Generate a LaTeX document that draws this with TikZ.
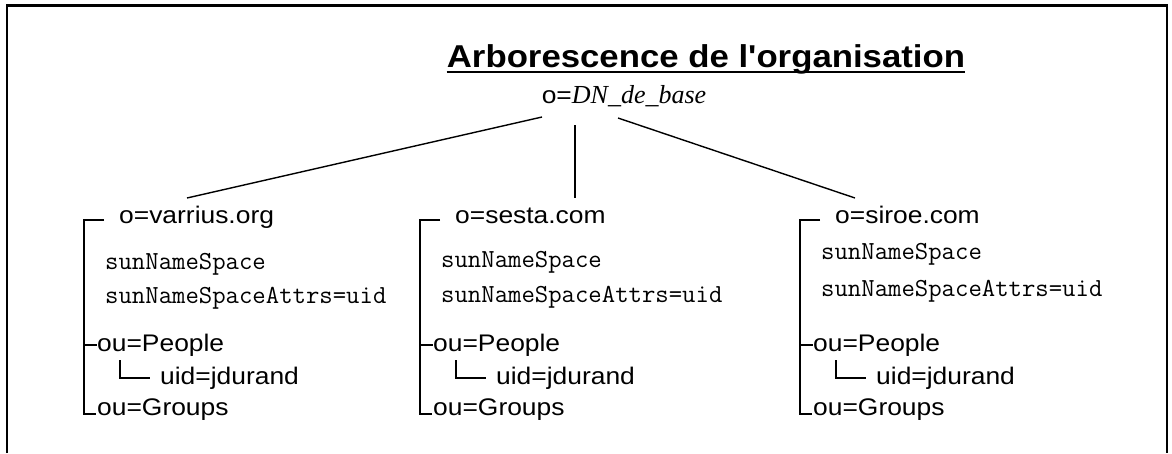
\documentclass[tikz,border=0pt]{standalone}
\usepackage{fontspec}
\newfontfamily\arialf[FakeStretch=1.1,Ligatures=TeXOff]{Liberation Sans}
\newfontfamily\timesf{Liberation Serif}
\usetikzlibrary{calc}
\newcommand\ldapbranch[5]{%
\begin{scope}[xshift=#1pt]
\node[sans,anchor=base west] (org#2) at (35,223) {o=#3};
\node[mono,anchor=base west] (sun#2) at (21,#4) {sunNameSpace};
\node[mono,anchor=base west] (att#2) at (21,#5) {sunNameSpaceAttrs=uid};
\node[sans,anchor=base west] (ppl#2) at (13,351) {ou=People};
\node[sans,anchor=base west] (uid#2) at (76,384) {uid=jdurand};
\node[sans,anchor=base west] (grp#2) at (13,415) {ou=Groups};
\coordinate (top#2) at (0,220);
\coordinate (bot#2) at (0,414);
\draw[tree] ([xshift=20pt]top#2) -- (top#2) -- (bot#2) -- ([xshift=12pt]bot#2);
\draw[tree] (top#2 |- ppl#2.west) -- (ppl#2.west);
\draw[tree] (36,360) |- ([xshift=-10pt]uid#2.west);
\end{scope}}
\begin{document}
\begin{tikzpicture}[x=1pt,y=-1pt,
  sans/.style={font=\arialf\fontsize{24}{28}\selectfont, inner sep=0pt},
  mono/.style={font=\ttfamily\fontsize{26}{28}\selectfont, inner sep=0pt},
  frame/.style={line width=2.5pt},
  edge/.style={line width=1.4pt},
  tree/.style={line width=2.4pt}]
\useasboundingbox (0,0) rectangle (1172,453);
\draw[frame] (7,453) -- (7,5.5) -- (1167,5.5) -- (1167,453);
\node[font=\arialf\bfseries\fontsize{31.6}{36}\selectfont, inner sep=0pt, anchor=base] (title) at (706,67) {Arborescence de l'organisation};
\draw[line width=2pt] ([yshift=-4.5pt]title.base west) -- ([yshift=-4.5pt]title.base east);
\node[inner sep=0pt, anchor=base] (root) at (624,103) {{\arialf\fontsize{24}{28}\selectfont o=}{\timesf\fontsize{26}{28}\selectfont\itshape DN\_de\_base}};
\coordinate (rl) at (542,117);
\coordinate (rm) at (575,125);
\coordinate (rr) at (618,118);
\coordinate (c1) at (187,198);
\coordinate (c2) at (575,198);
\coordinate (c3) at (855,198);
\draw[edge] (rl) -- (c1);
\draw[tree] (rm) -- (c2);
\draw[edge] (rr) -- (c3);
\ldapbranch{84}{a}{varrius.org}{269}{303}
\ldapbranch{420}{b}{sesta.com}{267}{302}
\ldapbranch{800}{c}{siroe.com}{259}{296}
\end{tikzpicture}
\end{document}
